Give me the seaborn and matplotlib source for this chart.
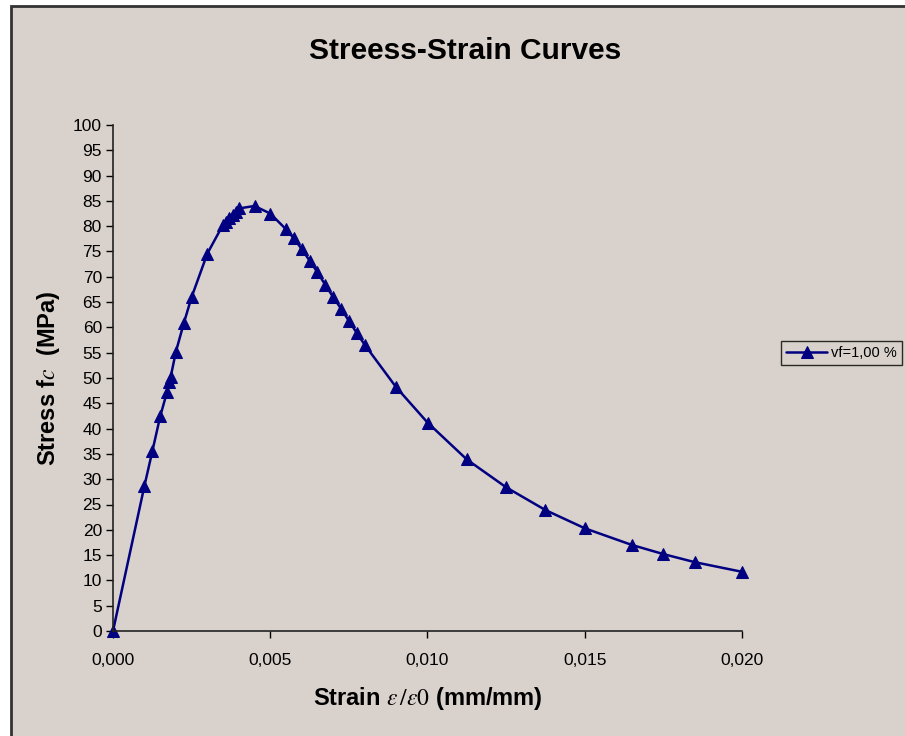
import numpy as np
import pandas as pd
import matplotlib
matplotlib.use("Agg")
import matplotlib.pyplot as plt
import seaborn as sns
from matplotlib.patches import Rectangle
from matplotlib.ticker import FuncFormatter, MultipleLocator

# Values
strain = [0.0, 0.001, 0.00125, 0.0015, 0.00172, 0.00178, 0.00183, 0.002, 0.00225, 0.0025,
          0.003, 0.0035, 0.0036, 0.0037, 0.0038, 0.0039, 0.004, 0.0045, 0.005, 0.0055,
          0.00575, 0.006, 0.00625, 0.0065, 0.00675, 0.007, 0.00725, 0.0075, 0.00775, 0.008,
          0.009, 0.010, 0.01125, 0.0125, 0.01375, 0.015, 0.0165, 0.0175, 0.0185, 0.020]
stress = [0.0, 28.7, 35.5, 42.4, 47.3, 49.3, 50.1, 55.2, 60.8, 66.0,
          74.6, 80.3, 80.9, 81.6, 82.2, 82.9, 83.5, 84.0, 82.5, 79.4,
          77.6, 75.5, 73.2, 70.9, 68.4, 66.0, 63.7, 61.3, 58.9, 56.6,
          48.2, 41.2, 33.9, 28.4, 23.9, 20.3, 17.0, 15.2, 13.6, 11.7]
series_label = "vf=1,00 %"

BG = "#D9D1CB"
NAVY = "#000080"

sns.set_theme(style="ticks")
plt.rcParams["font.family"] = ["Liberation Sans", "DejaVu Sans"]
plt.rcParams["mathtext.fontset"] = "stix"
plt.rcParams["text.color"] = "black"
plt.rcParams["axes.labelcolor"] = "black"

fig = plt.figure(figsize=(9.05, 7.36), dpi=100, facecolor="white")

# chart area frame (Excel style), cut off at right/bottom like the reference
fig.patches.append(Rectangle((11 / 905, -0.02), 1.0, 1 - 6 / 736 + 0.02,
                             transform=fig.transFigure, facecolor=BG,
                             edgecolor="#333333", linewidth=2, zorder=-10))

ax = fig.add_axes([113 / 905, 105 / 736, 629 / 905, 506 / 736])
ax.set_facecolor(BG)

df = pd.DataFrame({"strain": strain, "stress": stress})
sns.lineplot(data=df, x="strain", y="stress", ax=ax, color=NAVY, linewidth=1.8,
             marker="^", markersize=9, markeredgecolor=NAVY, markerfacecolor=NAVY,
             label=series_label, sort=False, clip_on=False)

ax.set_xlim(0, 0.020)
ax.set_ylim(0, 100)
ax.xaxis.set_major_locator(MultipleLocator(0.005))
ax.yaxis.set_major_locator(MultipleLocator(5))
ax.xaxis.set_major_formatter(FuncFormatter(lambda v, p: f"{v:.3f}".replace(".", ",")))
ax.yaxis.set_major_formatter(FuncFormatter(lambda v, p: f"{v:.0f}"))
ax.tick_params(axis="both", direction="out", length=5, width=1, labelsize=12.5,
               colors="black", labelcolor="black", pad=3)
ax.tick_params(axis="x", pad=11)
for s in ["top", "right"]:
    ax.spines[s].set_visible(False)
for s in ["left", "bottom"]:
    ax.spines[s].set_color("#222222")
    ax.spines[s].set_linewidth(1.2)

ax.set_xlabel(r"Strain $\varepsilon\,/\varepsilon0$ (mm/mm)", fontsize=17,
              fontweight="bold", labelpad=12)
ax.set_ylabel(r"Stress f$\mathit{c}$  (MPa)", fontsize=17, fontweight="bold",
              labelpad=8)
fig.text(465 / 905, 1 - 51 / 736, "Streess-Strain Curves", ha="center", va="center",
         fontsize=21.5, fontweight="bold")

leg = ax.legend(loc="center left", bbox_to_anchor=(781 / 905, 1 - 353 / 736),
                bbox_transform=fig.transFigure, frameon=True, fancybox=False,
                fontsize=10.5, handlelength=2.8, borderpad=0.35, handletextpad=0.3,
                borderaxespad=0)
leg.get_frame().set_edgecolor("black")
leg.get_frame().set_facecolor(BG)
leg.get_frame().set_linewidth(1)

fig.savefig("out.png", dpi=100, facecolor=fig.get_facecolor())
